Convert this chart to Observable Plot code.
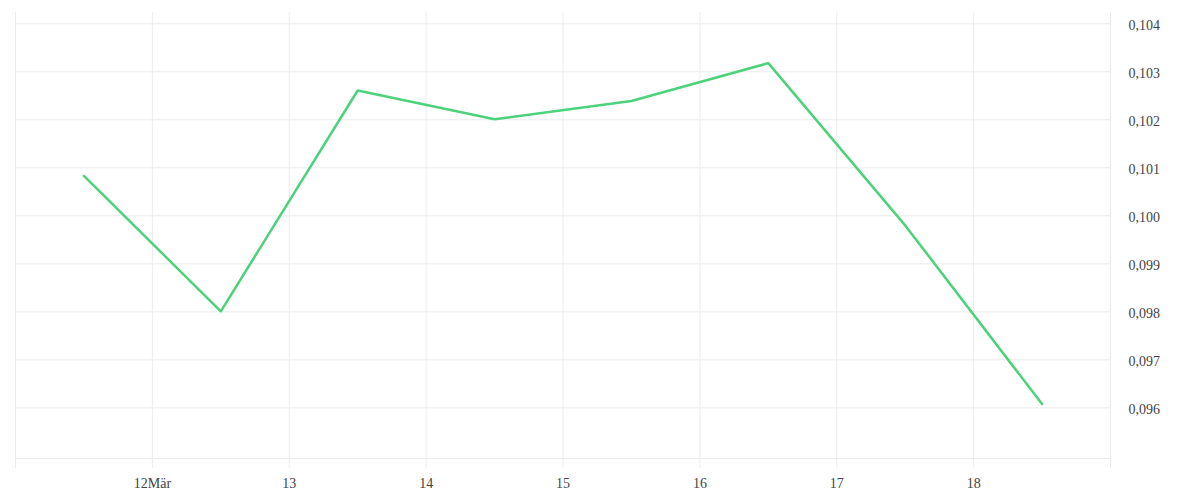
<!DOCTYPE html>
<html>
<head>
<meta charset="utf-8">
<script src="https://cdn.jsdelivr.net/npm/d3@7"></script>
<script src="https://cdn.jsdelivr.net/npm/@observablehq/plot@0.6"></script>
<style>
  html, body { margin: 0; padding: 0; background: #fff; }
</style>
</head>
<body>
<div id="chart"></div>
<script>
// Data
const dates = [
  "2024-03-11T12:00:00Z", "2024-03-12T12:00:00Z", "2024-03-13T12:00:00Z", "2024-03-14T12:00:00Z",
  "2024-03-15T12:00:00Z", "2024-03-16T12:00:00Z", "2024-03-17T12:00:00Z", "2024-03-18T12:00:00Z"
];
const values = [0.10083, 0.09801, 0.10261, 0.10201, 0.10239, 0.10318, 0.09980, 0.09608];

const xDomain = ["2024-03-11T00:00:00Z", "2024-03-19T00:00:00Z"];
const yDomain = [0.094944, 0.104235];
const xTickDays = ["2024-03-11", "2024-03-12", "2024-03-13", "2024-03-14", "2024-03-15", "2024-03-16", "2024-03-17", "2024-03-18", "2024-03-19"];
const xTickLabels = ["", "12Mär", "13", "14", "15", "16", "17", "18", ""];
const yTicks = [0.096, 0.097, 0.098, 0.099, 0.100, 0.101, 0.102, 0.103, 0.104];

const data = dates.map((d, i) => ({date: new Date(d), value: values[i]}));
const xTicks = xTickDays.map(d => new Date(d + "T00:00:00Z"));
const labelFor = d => xTickLabels[xTicks.findIndex(t => +t === +d)] ?? "";

const chart = Plot.plot({
  width: 1200,
  height: 500,
  marginTop: 12,
  marginBottom: 42,
  marginLeft: 15,
  marginRight: 90,
  style: {fontFamily: "'Liberation Serif', serif", fontSize: "14px", color: "#444", background: "#fff"},
  x: {type: "utc", domain: xDomain.map(d => new Date(d))},
  y: {domain: yDomain},
  marks: [
    Plot.gridX(xTicks, {stroke: "#ebebeb", strokeOpacity: 1}),
    Plot.gridY(yTicks, {stroke: "#ebebeb", strokeOpacity: 1}),
    Plot.ruleY([yDomain[0]], {stroke: "#ebebeb"}),
    Plot.axisX(xTicks, {
      tickSize: 10, tickPadding: 10, stroke: "#ebebeb", fill: "#444",
      tickFormat: labelFor, label: null
    }),
    Plot.axisY(yTicks, {
      anchor: "right", tickSize: 0, tickPadding: 18, textAnchor: "start", fill: "#444", dy: 2,
      tickFormat: v => v.toFixed(3).replace(".", ","), label: null
    }),
    Plot.line(data, {x: "date", y: "value", stroke: "#4cd27a", strokeWidth: 2.5})
  ]
});
document.getElementById("chart").appendChild(chart);
</script>
</body>
</html>
